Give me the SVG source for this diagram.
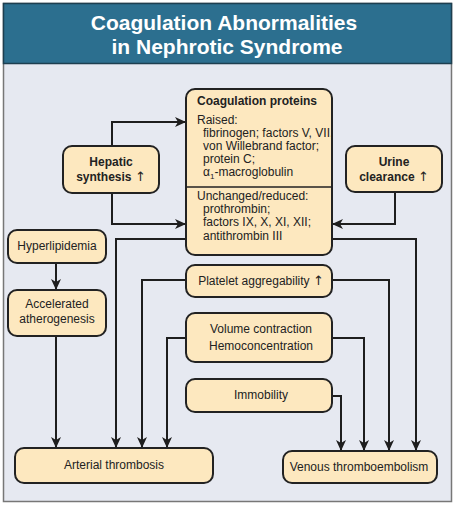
<svg xmlns="http://www.w3.org/2000/svg" width="457" height="507" viewBox="0 0 457 507">
<style>
.node{fill:#fde8bf;stroke:#222;stroke-width:2}
.t{font-family:"Liberation Sans",Arial,sans-serif;font-size:12px;fill:#222}
.b{font-weight:bold}
.c{text-anchor:middle}
.up{font-family:"DejaVu Sans",sans-serif;font-weight:normal;font-size:13px}
.title{font-family:"Liberation Sans",Arial,sans-serif;font-size:21px;font-weight:bold;fill:#fff;text-anchor:middle}
.conn path{fill:none;stroke:#1e1e1e;stroke-width:2}
</style>
<defs>
<marker id="ah" markerUnits="userSpaceOnUse" markerWidth="12" markerHeight="10" refX="11" refY="5" orient="auto">
<path d="M0,0 L11,5 L0,10 L3,5 Z" fill="#1e1e1e"/>
</marker>
</defs>
<rect x="3.5" y="3.5" width="448" height="498" fill="#e6e9f1" stroke="#777" stroke-width="1.5"/>
<rect x="3.5" y="3.5" width="448" height="60" fill="#2c6f8f" stroke="#1d3f50" stroke-width="1.5"/>
<text class="title" x="224" y="29.5">Coagulation Abnormalities</text>
<text class="title" x="227" y="53.5">in Nephrotic Syndrome</text>

<g class="conn">
<path d="M112,146 V122 H186" marker-end="url(#ah)"/>
<path d="M112,193 V224 H186" marker-end="url(#ah)"/>
<path d="M395,192 V224 H332" marker-end="url(#ah)"/>
<path d="M56,263 V290" marker-end="url(#ah)"/>
<path d="M56,336 V448" marker-end="url(#ah)"/>
<path d="M186,239 H116 V448" marker-end="url(#ah)"/>
<path d="M332,239 H416 V451" marker-end="url(#ah)"/>
<path d="M186,280 H142 V448" marker-end="url(#ah)"/>
<path d="M332,280 H389 V451" marker-end="url(#ah)"/>
<path d="M186,338 H167 V448" marker-end="url(#ah)"/>
<path d="M332,338 H364 V451" marker-end="url(#ah)"/>
<path d="M332,396 H341 V451" marker-end="url(#ah)"/>
</g>

<g id="coag">
<rect class="node" x="186" y="89" width="146" height="166" rx="9"/>
<line x1="186" y1="187" x2="332" y2="187" stroke="#222" stroke-width="1.5"/>
<text class="t b" x="197" y="105">Coagulation proteins</text>
<text class="t" x="197" y="124" font-size="11.7">Raised:</text>
<text class="t" x="203" y="137" font-size="11.7">fibrinogen; factors V, VII,</text>
<text class="t" x="203" y="150" font-size="11.7">von Willebrand factor;</text>
<text class="t" x="203" y="163" font-size="11.7">protein C;</text>
<text class="t" x="203" y="176" font-size="11.7">α<tspan font-size="8" dy="3">1</tspan><tspan dy="-3">-macroglobulin</tspan></text>
<text class="t" x="197" y="200" font-size="11.7">Unchanged/reduced:</text>
<text class="t" x="203" y="213" font-size="11.7">prothrombin;</text>
<text class="t" x="203" y="226" font-size="11.7">factors IX, X, XI, XII;</text>
<text class="t" x="203" y="240" font-size="11.7">antithrombin III</text>
</g>

<g id="hepatic">
<rect class="node" x="63" y="146" width="96" height="47" rx="9"/>
<text class="t b c" x="111" y="166">Hepatic</text>
<text class="t b c" x="111" y="181">synthesis <tspan class="up">↑</tspan></text>
</g>

<g id="urine">
<rect class="node" x="346" y="146" width="96" height="46" rx="9"/>
<text class="t b c" x="394" y="166">Urine</text>
<text class="t b c" x="394" y="181">clearance <tspan class="up">↑</tspan></text>
</g>

<g id="hyperlipidemia">
<rect class="node" x="8" y="230" width="98" height="33" rx="9"/>
<text class="t c" x="57" y="250">Hyperlipidemia</text>
</g>

<g id="atherogenesis">
<rect class="node" x="8" y="290" width="98" height="46" rx="9"/>
<text class="t c" x="57" y="308">Accelerated</text>
<text class="t c" x="57" y="323">atherogenesis</text>
</g>

<g id="platelet">
<rect class="node" x="186" y="265" width="146" height="32" rx="9"/>
<text class="t c" x="261" y="285">Platelet aggregability <tspan class="up">↑</tspan></text>
</g>

<g id="volume">
<rect class="node" x="186" y="313" width="146" height="49" rx="9"/>
<text class="t c" x="261" y="333">Volume contraction</text>
<text class="t c" x="261" y="350">Hemoconcentration</text>
</g>

<g id="immobility">
<rect class="node" x="186" y="379" width="146" height="33" rx="9"/>
<text class="t c" x="261" y="399">Immobility</text>
</g>

<g id="arterial">
<rect class="node" x="15" y="448" width="198" height="35" rx="9"/>
<text class="t c" x="114" y="469">Arterial thrombosis</text>
</g>

<g id="venous">
<rect class="node" x="283" y="451" width="154" height="32" rx="9"/>
<text class="t c" x="359" y="471">Venous thromboembolism</text>
</g>
</svg>
